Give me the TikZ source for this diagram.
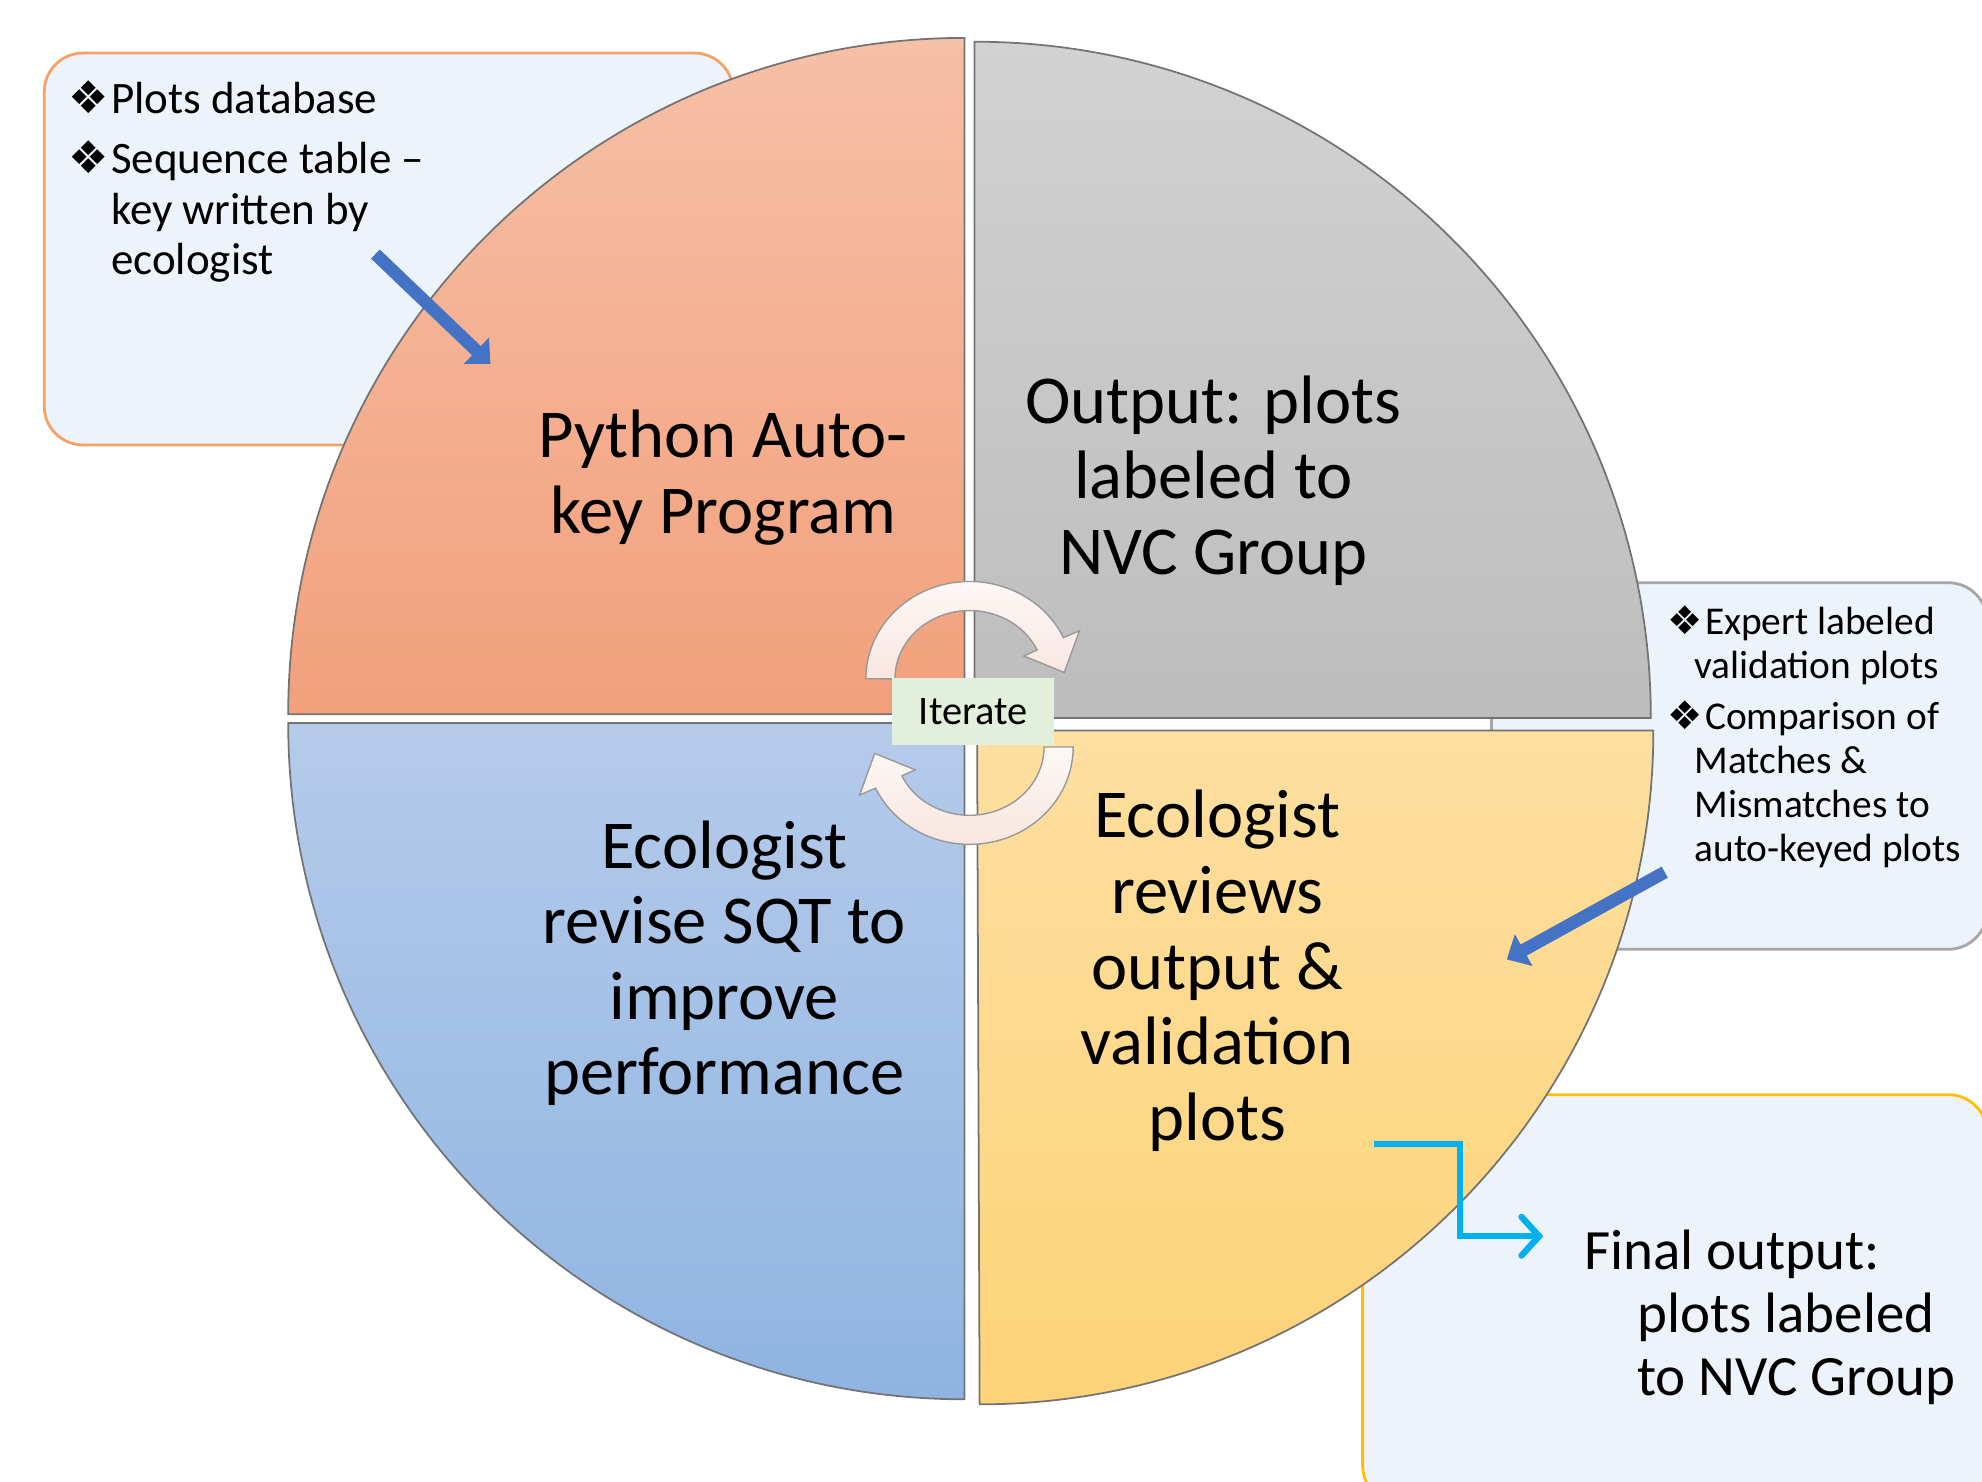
\documentclass[tikz,border=0pt]{standalone}
\usepackage{fontspec}
\setmainfont{Carlito}
\newfontfamily\symfont{DejaVu Sans}
\usetikzlibrary{arrows.meta}

\definecolor{salmonTop}{RGB}{246,192,166}
\definecolor{salmonBot}{RGB}{242,160,124}
\definecolor{grayTop}{RGB}{210,210,210}
\definecolor{grayBot}{RGB}{189,189,189}
\definecolor{blueTop}{RGB}{181,203,234}
\definecolor{blueBot}{RGB}{143,180,226}
\definecolor{yellowTop}{RGB}{254,223,160}
\definecolor{yellowBot}{RGB}{253,211,120}
\definecolor{boxFill}{RGB}{237,243,251}
\definecolor{boxOrange}{RGB}{244,162,104}
\definecolor{boxGold}{RGB}{255,192,0}
\definecolor{arrowBlue}{RGB}{68,114,196}
\definecolor{arrowCyan}{RGB}{0,176,240}
\definecolor{iterGreen}{RGB}{226,239,218}
\definecolor{cycTop}{RGB}{253,248,246}
\definecolor{cycBot}{RGB}{248,230,224}

\newcommand{\bul}{{\symfont ❖}\kern0.5pt}

\tikzset{
  quarter/.style={draw=black!55, line width=0.5pt},
  infobox/.style={fill=boxFill, rounded corners=11pt, line width=0.8pt},
  bigtext/.style={align=center, font=\fontsize{19.5}{21.5}\selectfont},
  fatarrow/.style={draw=arrowBlue, line width=3.6pt, -{Triangle[length=5.5pt,width=10pt]}},
  cycarrow/.style={draw=black!40, line width=0.4pt, top color=cycTop, bottom color=cycBot},
}

\begin{document}
\begin{tikzpicture}[x=0.01264cm, y=-0.01264cm]
\useasboundingbox (0,0) rectangle (1568,1172);

% side boxes
\draw[infobox, draw=boxOrange] (35,42) rectangle (580,352);
\draw[infobox, draw=black!35] (1180,461) rectangle (1572,751);
\draw[infobox, draw=boxGold] (1078,866) rectangle (1572,1190);

% four quarters
\draw[quarter, top color=salmonTop, bottom color=salmonBot]
  (763,565) -- (228,565) arc[start angle=180, end angle=270, radius=535] -- cycle;
\draw[quarter, top color=grayTop, bottom color=grayBot]
  (771,568) -- (771,33) arc[start angle=270, end angle=360, radius=535] -- cycle;
\draw[quarter, top color=blueTop, bottom color=blueBot]
  (763,572) -- (763,1107) arc[start angle=90, end angle=180, radius=535] -- cycle;
\draw[quarter, top color=yellowTop, bottom color=yellowBot]
  (773,578) -- (1308,578) arc[start angle=0, end angle=90, radius=533] -- cycle;

\node[bigtext] (python) at (572,378) {Python Auto-\\key Program};
\node[bigtext] (output) at (960,380) {Output: plots\\labeled to\\NVC Group};
\node[bigtext] (revise) at (573,762) {Ecologist\\revise SQT to\\improve\\performance};
\node[bigtext] (review) at (963,768) {Ecologist\\reviews\\output \&\\validation\\plots};

% box texts
\node[anchor=north west, inner sep=0pt, font=\fontsize{12.8}{14.3}\selectfont] (inputs) at (54,61)
  {\begin{tabular}{@{}l@{}l@{}}
   \bul & Plots database\\[3pt]
   \bul & Sequence table --\\
        & key written by\\
        & ecologist
   \end{tabular}};
\node[anchor=north west, inner sep=0pt, font=\fontsize{11.2}{12.5}\selectfont] (checks) at (1319,477)
  {\begin{tabular}{@{}l@{}l@{}}
   \bul & Expert labeled\\
        & \hspace*{-3pt}validation plots\\[2pt]
   \bul & Comparison of\\
        & \hspace*{-3pt}Matches \&\\
        & \hspace*{-3pt}Mismatches to\\
        & \hspace*{-3pt}auto-keyed plots
   \end{tabular}};
\node[anchor=north west, inner sep=0pt, font=\fontsize{16.2}{17.9}\selectfont] (final) at (1253,969)
  {\begin{tabular}{@{}l@{}}
   Final output:\\
   \hspace*{15pt}plots labeled\\
   \hspace*{15pt}to NVC Group
   \end{tabular}};

% arrows
\coordinate (inTail) at (297,201);
\coordinate (inHead) at (388,288);
\coordinate (chkTail) at (1317,690);
\coordinate (chkHead) at (1192,759);
\coordinate (outStart) at (1087,905);
\coordinate (outEnd) at (1221,978);
\draw[fatarrow] (inTail) -- (inHead);
\draw[fatarrow] (chkTail) -- (chkHead);
\draw[arrowCyan, line width=1.8pt, -{Straight Barb[length=5pt,width=11pt,line cap=round]}]
  (outStart) -- ++(68,0) |- (outEnd);

% iterate cycle
\draw[cycarrow] (685,537) arc[start angle=180, end angle=335, x radius=82, y radius=77]
  -- (854,499) -- (842,532) -- (810,519) -- (820.5,514.2)
  arc[start angle=335, end angle=180, x radius=59, y radius=54] -- cycle;
\draw[cycarrow, rotate around={180:(767,564)}] (685,537) arc[start angle=180, end angle=335, x radius=82, y radius=77]
  -- (854,499) -- (842,532) -- (810,519) -- (820.5,514.2)
  arc[start angle=335, end angle=180, x radius=59, y radius=54] -- cycle;
\node[fill=iterGreen, minimum width=46pt, minimum height=19pt, font=\fontsize{11.5}{13}\selectfont] (iterate) at (770,563) {Iterate};
\end{tikzpicture}
\end{document}
